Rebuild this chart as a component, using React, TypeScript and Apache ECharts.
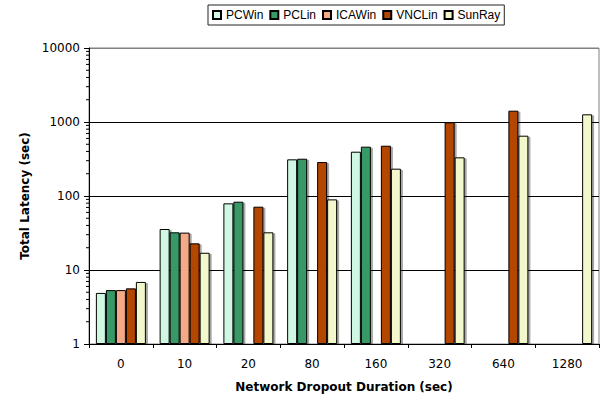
import React, { useEffect, useRef } from "react";
import * as echarts from "echarts";

// Network dropout durations (sec)
const durations = ["0", "10", "20", "80", "160", "320", "640", "1280"];

// Total latency (sec) per system; null where no bar is drawn
const pcWin = [4.9, 35.8, 79.6, 313, 397, null, null, null];
const pcLin = [5.35, 32.3, 83.7, 319, 464, null, null, null];
const icaWin = [5.35, 32.0, null, null, null, null, null, null];
const vncLin = [5.65, 22.9, 71.7, 288, 478, 990, 1422, null];
const sunRay = [6.9, 17.1, 32.3, 90, 234, 333, 653, 1270];

const seriesNames = ["PCWin", "PCLin", "ICAWin", "VNCLin", "SunRay"];
const seriesColors = ["#d0f7e2", "#379966", "#f5aa87", "#b44600", "#f3f7cc"];
const seriesData = [pcWin, pcLin, icaWin, vncLin, sunRay];

// Minor tick positions on the log axis
const minorTickValues = [
  2, 3, 4, 5, 6, 7, 8, 9,
  20, 30, 40, 50, 60, 70, 80, 90,
  200, 300, 400, 500, 600, 700, 800, 900,
  2000, 3000, 4000, 5000, 6000, 7000, 8000, 9000,
];

const FONT = "'DejaVu Sans', sans-serif";
const LEGEND_FONT = "'Liberation Sans', Arial, sans-serif";

export default function App() {
  const ref = useRef<HTMLDivElement>(null);

  useEffect(() => {
    if (!ref.current) return;
    const chart = echarts.init(ref.current, null, { renderer: "svg" });

    const bars = seriesNames.map((name, i) => ({
      name,
      type: "bar",
      data: seriesData[i],
      barWidth: 10,
      barGap: "0%",
      itemStyle: {
        color: seriesColors[i],
        borderColor: "#000",
        borderWidth: 1,
        shadowColor: "rgba(0,0,0,0.35)",
        shadowOffsetX: 2,
        shadowOffsetY: 1,
        shadowBlur: 1,
      },
    }));

    const minorTicks = {
      type: "custom",
      name: "minorTicks",
      silent: true,
      clip: false,
      data: minorTickValues.map((v) => [0, v]),
      encode: { x: 0, y: 1 },
      renderItem: (params: any, api: any) => {
        const y = api.coord([0, api.value(1)])[1];
        const x = params.coordSys.x;
        return {
          type: "line",
          shape: { x1: x - 3, y1: y, x2: x, y2: y },
          style: { stroke: "#000", lineWidth: 1 },
        };
      },
      z: 5,
    };

    chart.setOption({
      animation: false,
      backgroundColor: "#fff",
      legend: {
        data: seriesNames,
        left: 208,
        top: 5,
        itemWidth: 8,
        itemHeight: 8,
        itemGap: 6,
        padding: [4, 4],
        borderColor: "#222",
        borderWidth: 1,
        icon: "rect",
        textStyle: { fontFamily: LEGEND_FONT, fontSize: 12, color: "#000" },
      },
      grid: {
        left: 89,
        right: 10,
        top: 48,
        bottom: 54,
        show: true,
        borderColor: "#808080",
        borderWidth: 1,
      },
      xAxis: {
        type: "category",
        data: durations,
        name: "Network Dropout Duration (sec)",
        nameLocation: "middle",
        nameGap: 37,
        nameTextStyle: {
          fontFamily: FONT,
          fontSize: 12,
          fontWeight: "bold",
          color: "#000",
        },
        axisLine: { lineStyle: { color: "#000", width: 1 } },
        axisTick: { show: true, length: 4, lineStyle: { color: "#000" } },
        axisLabel: {
          fontFamily: FONT,
          fontSize: 12,
          color: "#000",
          margin: 14,
        },
        splitLine: { show: false },
      },
      yAxis: {
        type: "log",
        logBase: 10,
        min: 1,
        max: 10000,
        name: "Total Latency (sec)",
        nameLocation: "middle",
        nameGap: 58,
        nameTextStyle: {
          fontFamily: FONT,
          fontSize: 12,
          fontWeight: "bold",
          color: "#000",
        },
        axisLine: { show: true, lineStyle: { color: "#000", width: 1 } },
        axisTick: { show: true, length: 5, lineStyle: { color: "#000" } },
        axisLabel: {
          fontFamily: FONT,
          fontSize: 12,
          color: "#000",
          margin: 9,
          formatter: (v: number) => String(Math.round(v)),
        },
        splitLine: {
          show: true,
          lineStyle: {
            color: ["#000", "#000", "#000", "#000", "#808080"],
            width: 1,
          },
        },
      },
      series: [...bars, minorTicks],
    });

    return () => chart.dispose();
  }, []);

  return (
    <div
      ref={ref}
      style={{ position: "fixed", left: 0, top: 0, width: 609, height: 398 }}
    />
  );
}
